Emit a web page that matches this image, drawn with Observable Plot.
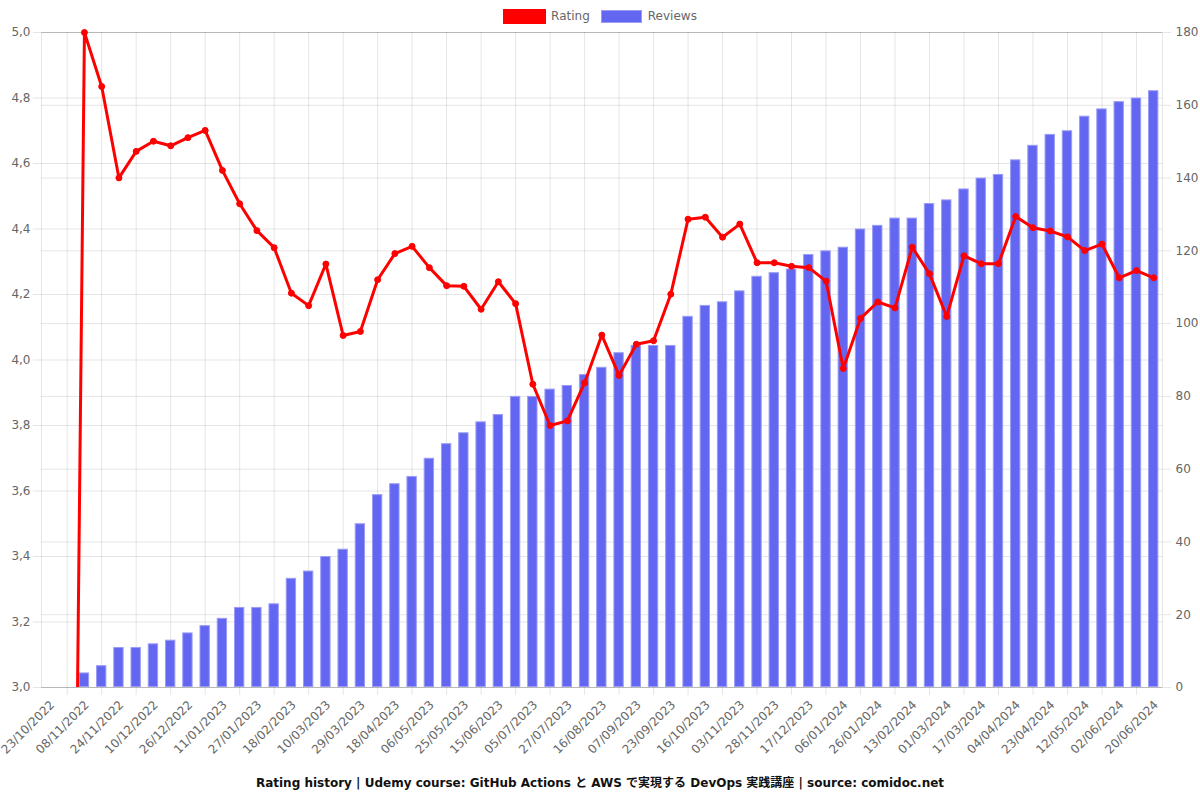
<!DOCTYPE html>
<html>
<head>
<meta charset="utf-8">
<script src="https://cdn.jsdelivr.net/npm/d3@7"></script>
<script src="https://cdn.jsdelivr.net/npm/@observablehq/plot@0.6"></script>
<style>
  html, body { margin: 0; padding: 0; background: #fff; }
  body { width: 1200px; font-family: "DejaVu Sans", "Noto Sans CJK JP", sans-serif; }
  #legend { height: 20px; padding-top: 6px; display: flex; justify-content: center; align-items: center; font-size: 12px; color: #666; }
  .box { display: inline-block; box-sizing: border-box; }
  #title { height: 22px; line-height: 22px; text-align: center; font-weight: bold; font-size: 12px; color: #111; font-family: "DejaVu Sans", "Noto Sans CJK JP", sans-serif; }
  #chart svg { display: block; }
</style>
</head>
<body>
<div id="legend">
  <span class="box" style="width:43px;height:15px;background:#ff0000;"></span>
  <span style="margin-left:5px;margin-right:11px;">Rating</span>
  <span class="box" style="width:41px;height:13px;background:#6366f1;border:1px solid #9a9cf6;"></span>
  <span style="margin-left:6px;">Reviews</span>
</div>
<div id="chart"></div>
<div id="title">Rating history | Udemy course: GitHub Actions と AWS で実現する DevOps 実践講座 | source: comidoc.net</div>
<script>
// Visible x tick labels (every second category)
const tickLabels = [
  "23/10/2022","08/11/2022","24/11/2022","10/12/2022","26/12/2022","11/01/2023","27/01/2023",
  "18/02/2023","10/03/2023","29/03/2023","18/04/2023","06/05/2023","25/05/2023","15/06/2023",
  "05/07/2023","27/07/2023","16/08/2023","07/09/2023","23/09/2023","16/10/2023","03/11/2023",
  "28/11/2023","17/12/2023","06/01/2024","26/01/2024","13/02/2024","01/03/2024","17/03/2024",
  "04/04/2024","23/04/2024","12/05/2024","02/06/2024","20/06/2024"
];

// Rating per category (left axis)
const ratings = [
  0, 5.0, 4.835, 4.556, 4.637, 4.668, 4.654, 4.679, 4.701, 4.579,
  4.477, 4.395, 4.343, 4.204, 4.166, 4.293, 4.075, 4.087, 4.245, 4.325,
  4.347, 4.282, 4.227, 4.225, 4.155, 4.239, 4.172, 3.926, 3.800, 3.814,
  3.930, 4.076, 3.953, 4.048, 4.059, 4.201, 4.430, 4.436, 4.375, 4.415,
  4.297, 4.297, 4.286, 4.282, 4.241, 3.974, 4.127, 4.177, 4.159, 4.344,
  4.263, 4.133, 4.318, 4.294, 4.294, 4.438, 4.404, 4.394, 4.376, 4.334,
  4.354, 4.251, 4.273, 4.251
];

// Cumulative reviews per category (right axis)
const reviews = [
  0, 4, 6, 11, 11, 12, 13, 15, 17, 19,
  22, 22, 23, 30, 32, 36, 38, 45, 53, 56,
  58, 63, 67, 70, 73, 75, 80, 80, 82, 83,
  86, 88, 92, 94, 94, 94, 102, 105, 106, 109,
  113, 114, 115, 119, 120, 121, 126, 127, 129, 129,
  133, 134, 137, 140, 141, 145, 149, 152, 153, 157,
  159, 161, 162, 164
];

const leftTicks = [3.0, 3.2, 3.4, 3.6, 3.8, 4.0, 4.2, 4.4, 4.6, 4.8, 5.0];
const rightTicks = [0, 20, 40, 60, 80, 100, 120, 140, 160, 180];

const yMin = 3, yMax = 5, revMax = 180;
const rev2y = v => yMin + v / revMax * (yMax - yMin);
const y2rev = y => Math.round((y - yMin) / (yMax - yMin) * revMax);

const n = ratings.length;
const data = ratings.map((r, i) => ({ i, rating: r, reviews: reviews[i] }));
const xDomain = [-1.49, n - 0.49];
const labelData = tickLabels.map((t, k) => ({ i: 2 * k, label: t }));
const tickPos = labelData.map(d => d.i).filter(i => i <= xDomain[1]);
const halfBar = 0.3;

const chart = Plot.plot({
  width: 1200,
  height: 746,
  marginTop: 6,
  marginBottom: 85,
  marginLeft: 41,
  marginRight: 38,
  style: { fontFamily: "DejaVu Sans, sans-serif", fontSize: "12px", background: "#fff" },
  x: { type: "linear", domain: xDomain },
  y: { domain: [yMin, yMax] },
  marks: [
    Plot.frame({ stroke: "#000", strokeOpacity: 0.1 }),
    Plot.gridX(tickPos, { stroke: "#000", strokeOpacity: 0.1 }),
    Plot.gridY(leftTicks, { stroke: "#000", strokeOpacity: 0.1 }),
    Plot.gridY(rightTicks.map(rev2y), { stroke: "#000", strokeOpacity: 0.1 }),
    Plot.axisX({ ticks: tickPos, tickSize: 8, tickFormat: () => "", stroke: "#000", strokeOpacity: 0.1, label: null }),
    Plot.axisY({ anchor: "left", ticks: leftTicks, tickSize: 8, tickPadding: 3,
      tickFormat: d => d.toFixed(1).replace(".", ","), stroke: "#000", strokeOpacity: 0.1,
      fill: "#666", fontSize: 12, label: null }),
    Plot.axisY({ anchor: "right", ticks: rightTicks.map(rev2y), tickSize: 8, tickPadding: 5,
      tickFormat: d => String(y2rev(d)), stroke: "#000", strokeOpacity: 0.1,
      fill: "#666", fontSize: 12, label: null }),
    Plot.text(labelData, { x: "i", text: "label", frameAnchor: "bottom", dy: 18, dx: -12,
      rotate: -45, textAnchor: "end", fill: "#666", fontSize: 12 }),
    Plot.rectY(data, { x1: d => d.i - halfBar, x2: d => d.i + halfBar, y1: yMin, y2: d => rev2y(d.reviews),
      fill: "#6366f1", stroke: "#9a9cf6", strokeWidth: 1, inset: 0.5 }),
    Plot.line(data, { x: "i", y: "rating", stroke: "#ff0000", strokeWidth: 3, strokeLinejoin: "round", clip: true }),
    Plot.dot(data.filter(d => d.rating >= yMin), { x: "i", y: "rating", r: 3, fill: "#ff0000", stroke: "#ff0000", strokeWidth: 1 })
  ]
});
document.getElementById("chart").appendChild(chart);
</script>
</body>
</html>
